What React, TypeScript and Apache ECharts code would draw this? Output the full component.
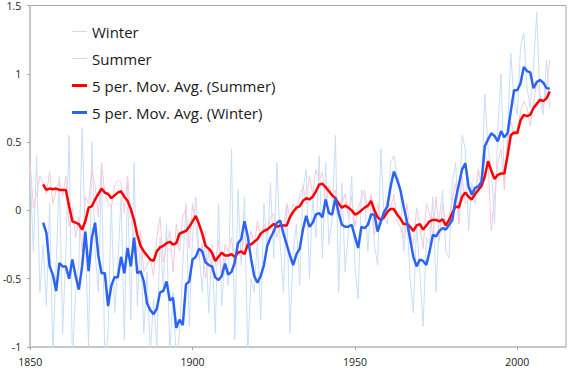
import React, { useEffect, useRef } from "react";
import * as echarts from "echarts";

const FIRST_YEAR = 1850;
const LAST_YEAR = 2010;
const years: number[] = [];
for (let y = FIRST_YEAR; y <= LAST_YEAR; y++) years.push(y);

const yTicks = [-1, -0.5, 0, 0.5, 1, 1.5];
const xTicks = [1850, 1900, 1950, 2000];

// Winter raw 1850-2010
const winter = [
  0.30, -0.30, 0.40, -0.60, -0.25, -0.70, 0.05, -1.05, -0.40, 0.25,
  -0.90, -0.30, 0.55, -1.10, -0.60, -0.40, 0.60, -0.20, -1.00, 0.50,
  -0.30, -0.60, 0.30, -1.10, -0.90, 0.05, -0.75, -0.40, 0.10, -0.95,
  0.20, -0.80, 0.35, -0.70, -0.20, -0.90, -0.45, -1.05, -0.65, -1.00,
  -0.20, -0.55, -0.10, -1.05, -0.60, -1.10, -0.90, -0.40, 0.05, -0.85,
  -0.20, 0.10, -0.30, -0.60, -0.15, -0.75, -0.25, -0.90, 0.05, -0.70,
  -0.35, -0.55, 0.45, -0.95, 0.15, -0.40, 0.10, -1.05, -0.50, -0.60,
  -0.20, -0.80, 0.05, -0.30, 0.20, -0.35, 0.35, -0.25, -0.60, 0.05,
  -0.90, -0.30, -0.10, -0.55, 0.15, 0.30, -0.50, 0.10, -0.20, 0.40,
  -0.35, 0.35, -0.25, -0.05, 0.55, -0.60, 0.20, -0.45, -0.15, 0.25,
  -0.40, -0.65, 0.15, 0.10, -0.30, 0.10, -0.25, -0.40, 0.45, -0.05,
  -0.10, 0.35, 0.40, 0.25, 0.15, -0.30, -0.05, -0.50, -0.75, -0.10,
  -0.45, -0.85, -0.20, -0.25, 0.10, -0.60, -0.05, 0.15, -0.30, -0.35,
  0.20, 0.35, -0.10, 0.55, 0.45, -0.15, 0.20, 0.05, 0.30, 0.15,
  0.85, 0.45, 0.30, -0.10, 0.60, 1.00, 0.20, 0.55, 1.15, 0.80,
  0.70, 1.20, 1.30, 0.90, 0.75, 1.05, 1.45, 0.80, 0.70, 1.10,
  0.75,
];

// Summer raw 1850-2010
const summer = [
  0.35, 0.02, 0.12, 0.25, 0.20, 0.12, 0.28, 0.05, 0.15, 0.22,
  0.10, 0.25, -0.12, 0.02, -0.20, -0.05, -0.30, 0.10, 0.05, 0.30,
  0.18, -0.05, 0.35, 0.12, 0.05, 0.02, 0.18, 0.22, 0.20, -0.02,
  0.25, -0.05, -0.20, -0.30, -0.15, -0.45, -0.40, -0.35, -0.48, -0.20,
  -0.05, -0.38, -0.25, -0.15, -0.45, -0.10, -0.30, -0.05, 0.02, -0.28,
  0.05, -0.10, -0.35, -0.25, -0.50, -0.30, -0.45, -0.40, -0.22, -0.48,
  -0.25, -0.30, -0.20, -0.42, -0.30, -0.35, -0.18, -0.28, -0.15, -0.25,
  -0.08, -0.20, -0.10, -0.18, -0.05, -0.02, -0.20, -0.10, -0.12, 0.05,
  -0.05, 0.05, 0.00, 0.10, 0.18, 0.05, 0.25, 0.12, 0.30, 0.22,
  0.28, 0.05, 0.18, 0.10, 0.15, -0.05, 0.05, 0.12, -0.05, 0.10,
  -0.12, 0.02, 0.08, 0.15, 0.00, 0.12, -0.18, 0.05, -0.10, -0.05,
  0.08, 0.02, 0.12, -0.08, -0.12, -0.20, 0.05, -0.15, -0.25, 0.02,
  -0.12, -0.28, 0.05, -0.02, -0.18, 0.10, -0.22, 0.05, -0.12, -0.05,
  0.08, 0.20, -0.10, 0.25, 0.05, 0.08, 0.15, 0.10, 0.30, 0.18,
  0.40, 0.35, -0.15, 0.10, 0.35, 0.45, 0.15, 0.50, 0.65, 0.55,
  0.60, 0.72, 0.80, 0.75, 0.62, 0.78, 0.95, 0.85, 0.75, 0.90,
  1.10,
];

// 5 per. moving average (Summer), 1854-2010
const summerAvg = [
  0.19, 0.15, 0.16, 0.155, 0.16, 0.15, 0.15, 0.15, 0.03, -0.08,
  -0.09, -0.10, -0.14, -0.08, 0.02, 0.03, 0.08, 0.12, 0.16, 0.13,
  0.12, 0.09, 0.11, 0.13, 0.14, 0.10, 0.07, 0.01, -0.07, -0.18,
  -0.26, -0.30, -0.33, -0.36, -0.37, -0.30, -0.27, -0.26, -0.24, -0.23,
  -0.25, -0.24, -0.17, -0.16, -0.15, -0.12, -0.08, -0.04, -0.10, -0.17,
  -0.26, -0.28, -0.31, -0.37, -0.34, -0.31, -0.33, -0.33, -0.32, -0.34,
  -0.31, -0.30, -0.32, -0.25, -0.25, -0.23, -0.21, -0.17, -0.15, -0.14,
  -0.12, -0.10, -0.12, -0.11, -0.11, -0.11, -0.05, -0.01, 0.02, 0.03,
  0.07, 0.09, 0.08, 0.10, 0.14, 0.19, 0.195, 0.17, 0.14, 0.11,
  0.09, 0.05, 0.02, 0.035, 0.02, 0.00, -0.03, -0.02, 0.00, 0.02,
  0.035, 0.07, 0.00, -0.05, -0.07, -0.05, -0.01, 0.01, 0.01, -0.03,
  -0.06, -0.10, -0.10, -0.12, -0.15, -0.11, -0.10, -0.14, -0.11, -0.08,
  -0.07, -0.07, -0.08, -0.065, -0.11, -0.07, -0.02, 0.03, 0.02, 0.10,
  0.13, 0.10, 0.08, 0.12, 0.15, 0.18, 0.25, 0.36, 0.29, 0.23,
  0.26, 0.27, 0.27, 0.40, 0.55, 0.57, 0.565, 0.66, 0.70, 0.69,
  0.70, 0.75, 0.78, 0.81, 0.80, 0.82, 0.87,
];

// 5 per. moving average (Winter), 1854-2010
const winterAvg = [
  -0.09, -0.165, -0.41, -0.47, -0.59, -0.385, -0.41, -0.41, -0.50, -0.36,
  -0.48, -0.58, -0.41, -0.155, -0.445, -0.20, -0.09, -0.33, -0.46, -0.46,
  -0.70, -0.55, -0.49, -0.49, -0.34, -0.46, -0.275, -0.41, -0.20, -0.46,
  -0.445, -0.52, -0.68, -0.73, -0.76, -0.72, -0.60, -0.59, -0.52, -0.66,
  -0.64, -0.86, -0.80, -0.84, -0.54, -0.52, -0.36, -0.34, -0.28, -0.30,
  -0.38, -0.40, -0.41, -0.49, -0.51, -0.48, -0.39, -0.47, -0.45, -0.38,
  -0.24, -0.21, -0.08, -0.19, -0.35, -0.48, -0.53, -0.48, -0.40, -0.26,
  -0.20, -0.155, -0.09, -0.075, -0.17, -0.25, -0.33, -0.40, -0.32, -0.28,
  -0.14, -0.04, -0.12, -0.09, -0.03, -0.02, -0.05, 0.08, -0.02, -0.03,
  0.09, -0.02, -0.105, -0.12, -0.12, -0.105, -0.19, -0.275, -0.12, -0.13,
  -0.105, -0.03, -0.03, -0.155, -0.08, -0.01, 0.03, 0.175, 0.285, 0.225,
  0.15, 0.03, -0.08, -0.21, -0.34, -0.41, -0.36, -0.37, -0.40, -0.30,
  -0.18, -0.19, -0.15, -0.13, -0.14, -0.105, -0.07, 0.08, 0.19, 0.30,
  0.345, 0.175, 0.115, 0.165, 0.175, 0.21, 0.47, 0.52, 0.565, 0.545,
  0.505, 0.58, 0.535, 0.565, 0.725, 0.88, 0.88, 0.93, 1.05, 1.02,
  1.01, 0.895, 0.94, 0.955, 0.935, 0.895, 0.89,
];

const names = [
  "Winter",
  "Summer",
  "5 per. Mov. Avg. (Summer)",
  "5 per. Mov. Avg. (Winter)",
];
const colors = ["#c8def8", "#f8c8d8", "#ff0000", "#2b63f2"];
const widths = [1, 1, 2.5, 2.5];

const FONT = "'Open Sans', 'Liberation Sans', sans-serif";

function pairs(vals: number[], startYear: number): [number, number][] {
  return vals.map((v, i) => [startYear + i, v]);
}

export default function App() {
  const ref = useRef<HTMLDivElement>(null);
  useEffect(() => {
    if (!ref.current) return;
    const chart = echarts.init(ref.current, undefined, { renderer: "svg" });
    const avgStart = LAST_YEAR - summerAvg.length + 1;
    const seriesData = [
      pairs(winter, years[0]),
      pairs(summer, years[0]),
      pairs(summerAvg, avgStart),
      pairs(winterAvg, avgStart),
    ];
    chart.setOption({
      animation: false,
      backgroundColor: "#ffffff",
      grid: {
        left: 28,
        right: 4,
        top: 5,
        bottom: 22,
        show: true,
        borderColor: "#a6a6a6",
        borderWidth: 1,
      },
      xAxis: {
        type: "value",
        min: 1850,
        max: 2015,
        interval: 50,
        axisLine: { show: true, onZero: false, lineStyle: { color: "#c4c4c4", width: 1.5 } },
        axisTick: { show: true, length: 3, lineStyle: { color: "#a6a6a6" } },
        splitLine: { show: false },
        axisLabel: {
          showMaxLabel: false,
          margin: 9,
          color: "#1a1a1a",
          fontSize: 10.5,
          fontFamily: FONT,
          formatter: (v: number) => (xTicks.includes(v) ? String(v) : ""),
        },
      },
      yAxis: {
        type: "value",
        min: yTicks[0],
        max: yTicks[yTicks.length - 1],
        interval: 0.5,
        axisLine: { show: true, onZero: false, lineStyle: { color: "#c4c4c4", width: 1.5 } },
        axisTick: { show: true, length: 3, lineStyle: { color: "#a6a6a6" } },
        splitLine: { show: false },
        axisLabel: {
          margin: 9,
          color: "#1a1a1a",
          fontSize: 10.5,
          fontFamily: FONT,
          formatter: (v: number) => String(v),
        },
      },
      legend: names.map((n, i) => ({
        data: [n],
        left: 72,
        top: 24 + i * 27,
        orient: "vertical",
        padding: 0,
        icon: "rect",
        itemWidth: 15,
        itemHeight: widths[i] > 1 ? 3 : 1,
        itemGap: 0,
        selectedMode: false,
        textStyle: { fontSize: 15, fontFamily: FONT, color: "#1a1a1a", padding: [0, 0, 0, 0] },
      })),
      series: names.map((n, i) => ({
        name: n,
        type: "line",
        data: seriesData[i],
        symbol: "none",
        showSymbol: false,
        clip: true,
        color: colors[i],
        lineStyle: { color: colors[i], width: widths[i] },
        itemStyle: { color: colors[i] },
        z: 2 + i,
      })),
    });
    return () => chart.dispose();
  }, []);
  return (
    <div
      ref={ref}
      style={{ position: "fixed", left: 0, top: 0, width: 570, height: 369 }}
    />
  );
}
